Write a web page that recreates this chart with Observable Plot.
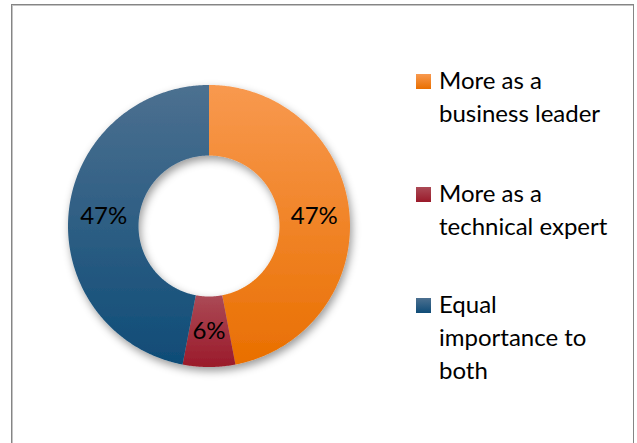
<!DOCTYPE html>
<html><head><meta charset="utf-8">
<script src="https://cdn.jsdelivr.net/npm/d3@7"></script>
<script src="https://cdn.jsdelivr.net/npm/@observablehq/plot@0.6"></script>
<style>
body{margin:0;background:#fff;font-family:Lato,"Open Sans",sans-serif;}
#wrap{position:relative;width:637px;height:443px;overflow:hidden;background:#fff;}
#frame{position:absolute;left:11px;top:4px;width:621px;height:480px;border:1px solid #858585;box-shadow:inset 1px 1px 0 #c4c4c4;}
#chart{position:absolute;left:0;top:0;}
.item{position:absolute;left:416px;font-size:24px;line-height:33px;color:#000;}
.item .sw{position:absolute;left:0;width:15px;height:15px;}
.item .tx{position:absolute;left:23px;white-space:nowrap;}
</style></head>
<body>
<div id="wrap"><div id="frame"></div><div id="chart"></div><div id="legend"></div></div>
<script>
const categories = ["More as a business leader", "More as a technical expert", "Equal importance to both"];
const legendLines = [["More as a", "business leader"], ["More as a", "technical expert"], ["Equal", "importance to", "both"]];
const shares = [47, 6, 47];
const labels = ["47%", "6%", "47%"];
const topColors = ["#f8994f", "#ab4a56", "#4c7090"];
const bottomColors = ["#e96f00", "#9a1a2a", "#0f4c77"];

const holeFraction = 0.5;
const pie = d3.pie().sort(null).value(d => d)(shares);
const slices = [];
const labelData = [];
pie.forEach((p, i) => {
  const n = Math.max(4, Math.ceil((p.endAngle - p.startAngle) / 0.01));
  for (let k = 0; k <= n; k++) {
    const a = p.startAngle + (p.endAngle - p.startAngle) * k / n;
    slices.push({cat: categories[i], x: Math.sin(a), y: Math.cos(a)});
  }
  for (let k = n; k >= 0; k--) {
    const a = p.startAngle + (p.endAngle - p.startAngle) * k / n;
    slices.push({cat: categories[i], x: holeFraction * Math.sin(a), y: holeFraction * Math.cos(a)});
  }
  const m = (p.startAngle + p.endAngle) / 2, r = (1 + holeFraction) / 2;
  labelData.push({x: r * Math.sin(m), y: r * Math.cos(m), text: labels[i]});
});

const svg = Plot.plot({
  width: 637, height: 443,
  style: {background: "transparent", overflow: "visible"},
  x: {domain: [-1, 1], range: [67.5, 349.5], axis: null},
  y: {domain: [-1, 1], range: [366.5, 84.5], axis: null},
  color: {type: "ordinal", domain: categories, range: categories.map((c, i) => `url(#g${i})`)},
  marks: [
    Plot.line(slices, {x: "x", y: "y", z: "cat", fill: "cat", stroke: "none", curve: "linear-closed"}),
    Plot.text(labelData, {x: "x", y: "y", text: "text", fontSize: 24, fill: "#000", fontFamily: "Lato, 'Open Sans', sans-serif"})
  ]
});
const s = d3.select(svg);
const defs = s.insert("defs", ":first-child");
categories.forEach((c, i) => {
  const g = defs.append("linearGradient").attr("id", `g${i}`).attr("x1", 0).attr("y1", 0).attr("x2", 0).attr("y2", 1);
  g.append("stop").attr("offset", 0).attr("stop-color", topColors[i]);
  g.append("stop").attr("offset", 1).attr("stop-color", bottomColors[i]);
});
defs.append("filter").attr("id", "shadow").attr("x", "-20%").attr("y", "-20%").attr("width", "140%").attr("height", "140%")
  .append("feDropShadow").attr("dx", 2).attr("dy", 4).attr("stdDeviation", 4).attr("flood-color", "#000").attr("flood-opacity", 0.4);
s.select('g[aria-label="line"]').attr("filter", "url(#shadow)");
document.getElementById("chart").appendChild(svg);

const tops = [63, 176, 287];
const leg = d3.select("#legend");
legendLines.forEach((lines, i) => {
  const it = leg.append("div").attr("class", "item").style("top", tops[i] + "px");
  it.append("div").attr("class", "sw").style("top", "11px")
    .style("background", `linear-gradient(${topColors[i]}, ${bottomColors[i]})`);
  it.append("div").attr("class", "tx").html(lines.join("<br>"));
});
</script>
</body></html>
